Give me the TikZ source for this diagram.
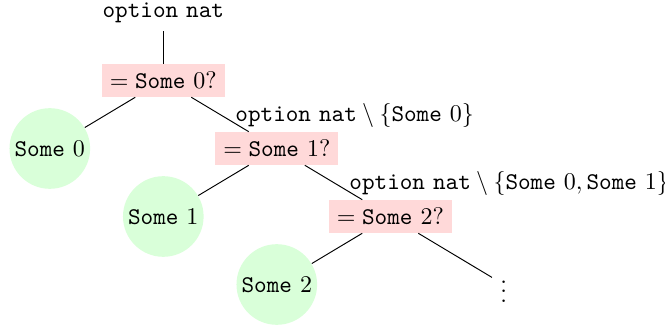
\documentclass[tikz,border=0pt]{standalone}
\begin{document}
\begin{tikzpicture}[x=0.416667pt,y=-0.416667pt,
  testbox/.style={fill=red!15, inner sep=3.33pt},
  leaf/.style={circle, fill=green!15, minimum size=33.6pt, inner sep=0pt},
  lbl/.style={anchor=base west, inner sep=0pt},
  edge/.style={draw=black, line width=0.4pt}]
\useasboundingbox (0,0) rectangle (665,329);
\node[anchor=base] (root) at (163.3,17.3) {$\mathtt{option}\ \mathtt{nat}$};
\node[testbox] (b1) at (163.3,80.5) {$=\mathtt{Some}\ 0?$};
\node[leaf] (c0) at (49.8,148.5) {$\mathtt{Some}\ 0$};
\node[testbox] (b2) at (276.8,148.5) {$=\mathtt{Some}\ 1?$};
\node[leaf] (c1) at (163.3,216.5) {$\mathtt{Some}\ 1$};
\node[testbox] (b3) at (390.3,216.5) {$=\mathtt{Some}\ 2?$};
\node[leaf] (c2) at (276.8,284.5) {$\mathtt{Some}\ 2$};
\node (vd) at (503.8,284.5) {$\vdots$};
\node[lbl] (l1) at (235,121.7) {$\mathtt{option}\ \mathtt{nat}\setminus\{\mathtt{Some}\ 0\}$};
\node[lbl] (l2) at (349,189.3) {$\mathtt{option}\ \mathtt{nat}\setminus\{\mathtt{Some}\ 0,\mathtt{Some}\ 1\}$};
\path[edge] (root) -- (b1);
\path[edge] (b1) -- (c0);
\path[edge] (b1) -- (b2);
\path[edge] (b2) -- (c1);
\path[edge] (b2) -- (b3);
\path[edge] (b3) -- (c2);
\path[edge] (b3) -- (vd);
\end{tikzpicture}
\end{document}
